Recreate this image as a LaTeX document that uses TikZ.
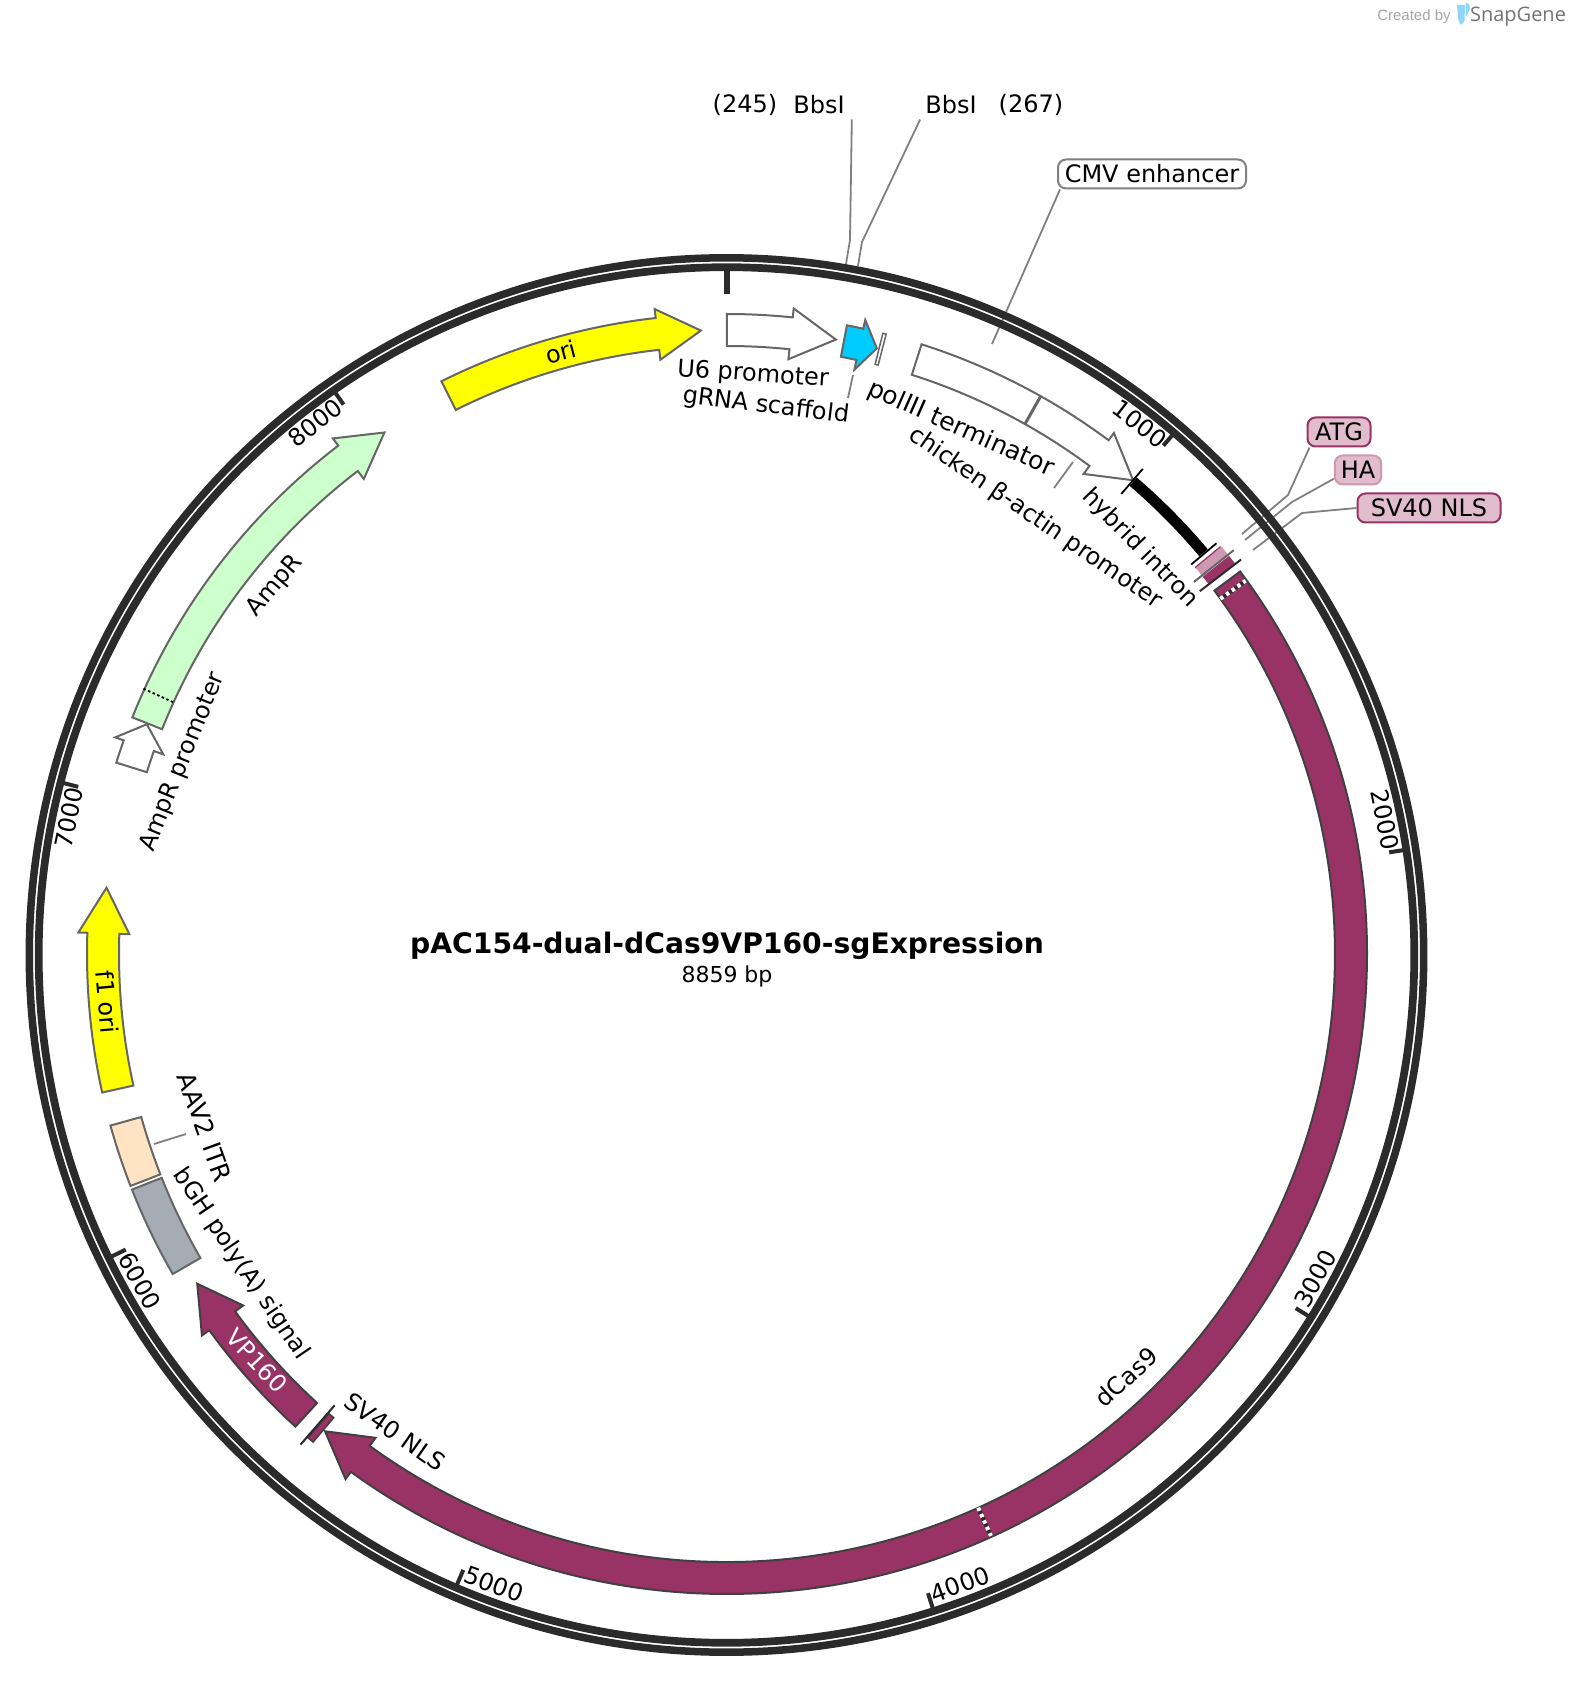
\documentclass[tikz,border=0pt]{standalone}
\usepackage{fontspec}
\setmainfont{DejaVu Sans}
\newfontfamily\creditfont{Liberation Sans}
\newfontfamily\brandfont{Open Sans}
\definecolor{crimson}{HTML}{993366}
\definecolor{palecrimson}{HTML}{CC99B0}
\definecolor{tagfill}{HTML}{E0BCCC}
\definecolor{ringcol}{HTML}{2B2B2B}
\definecolor{edgecol}{HTML}{666666}
\definecolor{leadcol}{HTML}{808080}
\definecolor{orifill}{HTML}{FFFF00}
\definecolor{grnafill}{HTML}{00CCFF}
\definecolor{ampfill}{HTML}{CCFFCC}
\definecolor{bghfill}{HTML}{A6ACB3}
\definecolor{aavfill}{HTML}{FFE4C4}
\definecolor{logocol}{HTML}{8FD6F8}
\tikzset{
  lab/.style={font=\fontsize{24}{28}\selectfont, inner sep=0pt},
  tag/.style={lab, draw, line width=2pt, rounded corners=8pt, inner xsep=6pt, minimum height=29pt},
  leader/.style={leadcol, line width=1.8pt},
  feat/.style={draw=edgecol, line width=2pt, line join=miter},
  darkfeat/.style={draw=ringcol!90, line width=2pt, fill=crimson},
  dotback/.style={ringcol, line width=4pt},
  dotfront/.style={white, line width=4pt, dash pattern=on 3.5pt off 3.5pt},
}
% box on the band, angles clockwise from the top
\newcommand{\bandbox}[3]{
  \draw[#1] ({90-#2}:640) arc[start angle={90-#2}, end angle={90-#3}, radius=640]
    -- ({90-#3}:608) arc[start angle={90-#3}, end angle={90-#2}, radius=608] -- cycle;
}
% tail, neck, tip
\newcommand{\bandarrow}[4]{
  \draw[#1] ({90-#2}:640) arc[start angle={90-#2}, end angle={90-#3}, radius=640]
    -- ({90-#3}:649) -- ({90-#4}:624) -- ({90-#3}:598)
    -- ({90-#3}:608) arc[start angle={90-#3}, end angle={90-#2}, radius=608] -- cycle;
}
\begin{document}
\begin{tikzpicture}[x=1pt,y=1pt]
  \useasboundingbox (-727,-728) rectangle (843,954);

  \node[lab] (size245) at (18,849) {(245)};
  \node[lab] (bbsa) at (92,849) {BbsI};
  \node[lab] (bbsb) at (224,849) {BbsI};
  \node[lab] (size267) at (304,849) {(267)};
  \node[tag, draw=leadcol, fill=white, minimum width=188pt] (cmvtag) at (425,780) {CMV enhancer};
  \node[tag, draw=crimson, fill=tagfill, minimum width=63pt] (atgtag) at (612,522) {ATG};
  \node[tag, draw=palecrimson, fill=tagfill] (hatag) at (631,484) {HA};
  \node[tag, draw=crimson, fill=tagfill, minimum width=143pt] (svtag) at (702,446) {SV40 NLS\hspace{9pt}};

  \coordinate (bbsabend) at (123,714);
  \coordinate (bbsaend) at (119,690);
  \coordinate (bbsbbend) at (135,712);
  \coordinate (bbsbend) at (131,688);
  \coordinate (cmvend) at (265,610);
  \coordinate (atgbend) at (561,459);
  \coordinate (atgend) at (515,420);
  \coordinate (habend) at (565,452);
  \coordinate (haend) at (518,414);
  \coordinate (svbend) at (575,441);
  \coordinate (svend) at (526,404);
  \draw[leader] ([xshift=7pt,yshift=-5pt]bbsa.south east) -- (bbsabend) -- (bbsaend);
  \draw[leader] ([xshift=-5pt,yshift=-5pt]bbsb.south west) -- (bbsbbend) -- (bbsbend);
  \draw[leader] ([xshift=3pt]cmvtag.south west) -- (cmvend);
  \draw[leader] ([xshift=3pt]atgtag.south west) -- (atgbend) -- (atgend);
  \draw[leader] (hatag.200) -- (habend) -- (haend);
  \draw[leader] (svtag.west) -- (svbend) -- (svend);

  \draw[ringcol, line width=7.5pt] (-0.5,-1) circle[radius=697.2];
  \draw[ringcol, line width=7.7pt] (-0.5,-1) circle[radius=687.8];

  \draw[ringcol, line width=6pt] (90:687) -- (90:660);
  \foreach \lab/\tk/\ang/\rot in {1000/40.64/37.9/-37.9, 2000/81.27/78.5/-78.5, 3000/121.91/118.9/61.1, 4000/162.54/159.7/20.3, 5000/203.18/200.3/-20.3, 6000/243.82/240.9/-60.9, 7000/284.45/281.7/78.3, 8000/325.09/322.2/37.8}{
    \draw[ringcol, line width=4pt] ({90-\tk}:687) -- ({90-\tk}:670);
    \node[lab, rotate=\rot] (tick\lab) at ({90-\ang}:672) {\lab};
  }

  \bandarrow{feat, fill=orifill}{-26.5}{-6.4}{-2.4}
  \bandarrow{feat, fill=white}{0}{5.9}{10.05}
  \bandarrow{feat, fill=grnafill}{10.8}{12.3}{13.9}
  \bandbox{draw=edgecol, line width=1.5pt, fill=white}{14.1}{14.4}
  \bandarrow{feat, fill=white}{17.7}{36.6}{40.6}
  \draw[edgecol, line width=3pt] ({90-29.35}:640) -- ({90-29.35}:608);

  \draw[black, line width=11pt] ({90-40.7}:623) arc[start angle={90-40.7}, end angle={90-49.9}, radius=623];
  \draw[black, line width=1.8pt] ({90-40.6}:606) -- ({90-40.6}:639);
  \draw[black, line width=1.8pt] ({90-50}:606) -- ({90-50}:639);

  \draw[crimson, line width=2pt] ({90-50.5}:607) -- ({90-50.5}:640);
  \bandbox{draw=palecrimson, line width=1.5pt, fill=palecrimson}{50.6}{51.35}
  \draw[edgecol, line width=2pt] ({90-51.45}:597) -- ({90-51.45}:648);
  \bandbox{draw=crimson, line width=1.5pt, fill=crimson}{51.65}{52.4}
  \draw[ringcol, line width=2pt] ({90-52.5}:596) -- ({90-52.5}:648);

  \bandarrow{darkfeat}{53.3}{216}{220.1}
  \draw[dotback] ({90-54.25}:608) -- ({90-54.25}:639);
  \draw[dotfront] ({90-54.25}:608) -- ({90-54.25}:639);
  \draw[dotback] ({90-155.6}:608) -- ({90-155.6}:639);
  \draw[dotfront] ({90-155.6}:608) -- ({90-155.6}:639);

  \bandbox{darkfeat, line width=1.5pt}{220.3}{220.9}
  \draw[ringcol, line width=2pt] ({90-221}:598) -- ({90-221}:650);
  \bandarrow{darkfeat}{222.4}{234}{238.1}
  \bandbox{feat, fill=bghfill}{240}{248.4}
  \bandbox{feat, fill=aavfill}{248.75}{254.45}
  \bandarrow{feat, fill=orifill}{257.5}{271.9}{276.1}
  \bandarrow{feat, fill=white}{287.4}{289.5}{291.6}
  \bandarrow{feat, fill=ampfill}{291.7}{322.6}{326.7}
  \draw[black, line width=1.8pt, dash pattern=on 2.5pt off 2.5pt] ({90-294.45}:641) -- ({90-294.45}:608);

  \node[lab, rotate=15] (orilab) at (-166,602) {ori};
  \node[lab, rotate=-4] (u6lab) at (26,579) {U6 promoter};
  \node[lab, rotate=-7] (grnalab) at (39,548) {gRNA scaffold};
  \node[lab, rotate=-24, font=\fontsize{25}{28}\selectfont] (pollab) at (234,525) {polIII terminator};
  \node[lab, rotate=-34.5] (chicklab) at (308,436) {chicken β-actin promoter};
  \node[lab, rotate=-46] (hyblab) at (413,406) {hybrid intron};
  \node[lab, rotate=42] (caslab) at (399,-423) {dCas9};
  \node[lab, rotate=50] (amplab) at (-452,368) {AmpR};
  \node[lab, rotate=68] (amppromlab) at (-544,192) {AmpR promoter};
  \node[lab, rotate=-85] (f1lab) at (-620,-48) {f1 ori};
  \node[lab, rotate=-70, font=\fontsize{25}{28}\selectfont] (aavlab) at (-522,-173) {AAV2 ITR};
  \node[lab, rotate=-56] (bghlab) at (-486,-310) {bGH poly(A) signal};
  \node[lab, rotate=-47, text=white] (vplab) at (-470,-407) {VP160};
  \node[lab, rotate=-35] (nlslab) at (-332,-478) {SV40 NLS};

  \coordinate (grnaend) at (121,556);
  \coordinate (grnastart) at (126,579);
  \coordinate (chickstart) at (346,492);
  \coordinate (chickend) at (327,466);
  \coordinate (aavstart) at (-541,-180);
  \coordinate (aavend) at (-573,-190);
  \draw[leader] (grnastart) -- (grnaend);
  \draw[leader] (chickstart) -- (chickend);
  \draw[leader] (aavstart) -- (aavend);

  \node[inner sep=0pt, font=\fontsize{28.2}{32}\selectfont\bfseries] (title) at (0,8) {pAC154-dual-dCas9VP160-sgExpression};
  \node[inner sep=0pt, font=\fontsize{22}{26}\selectfont] (bp) at (0,-22) {8859 bp};

  \node[inner sep=0pt, text=black!35, font=\fontsize{15}{18}\selectfont\creditfont] (created) at (687,937) {Created by};
  \fill[logocol] (730,949) -- (738,949) -- (737.5,933) -- (734,929) -- (731.5,933) -- cycle;
  \fill[logocol] (738.5,951) -- (742,950) -- (743,945) -- (739,937) -- cycle;
  \node[inner sep=0pt, text=black!55, font=\fontsize{20}{24}\selectfont\brandfont] (brand) at (791,937) {SnapGene};
\end{tikzpicture}
\end{document}
